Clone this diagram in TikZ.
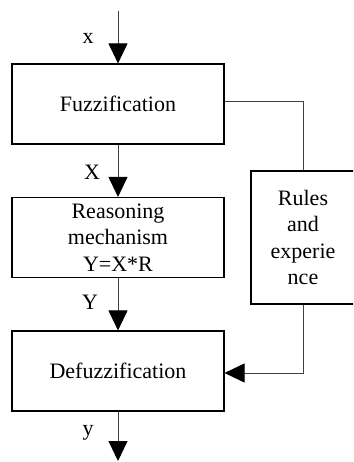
\documentclass[tikz,border=0pt]{standalone}
\usepackage{fontspec}
\setmainfont{Liberation Serif}
\usetikzlibrary{arrows.meta}
\begin{document}
\begin{tikzpicture}[x=1pt,y=-1pt,
  txt/.style={font=\fontsize{22}{26.5}\selectfont},
  box/.style={txt, draw=black, line width=1.1pt, minimum width=212pt,
    minimum height=80pt, inner sep=0pt, align=center},
  flow/.style={draw=black!75, line width=0.9pt},
  arr/.style={flow, -{Triangle[length=20pt,width=19pt,color=black]}},
  lbl/.style={txt, inner sep=0pt}]
\useasboundingbox (0,0) rectangle (353,462);
\clip (0,0) rectangle (353,462);
% processing chain
\node[box] (fuz) at (118,104) {Fuzzification};
\node[box] (rea) at (118,237.5) {Reasoning\\mechanism\\Y=X*R};
\node[box] (def) at (118,371) {Defuzzification};
% knowledge base on the side
\node[box, minimum width=104pt, minimum height=133pt] (rul) at (303,237.5)
  {Rules\\and\\experie\\nce};
\coordinate (in) at (118,11);
\coordinate (out) at (118,461);
% main flow
\draw[arr] (in) -- (fuz.north);
\draw[arr] (fuz.south) -- (rea.north);
\draw[arr] (rea.south) -- (def.north);
\draw[arr] (def.south) -- (out);
% side loop through the rule base
\draw[flow] ([yshift=3pt]fuz.east) -| (rul.north);
\draw[arr] (rul.south) |- ([yshift=-2pt]def.east);
% signal labels
\node[lbl] (lx) at (88,38) {x};
\node[lbl] (lX) at (92,172) {X};
\node[lbl] (lY) at (90,302) {Y};
\node[lbl] (ly) at (88,433) {y};
\end{tikzpicture}
\end{document}
